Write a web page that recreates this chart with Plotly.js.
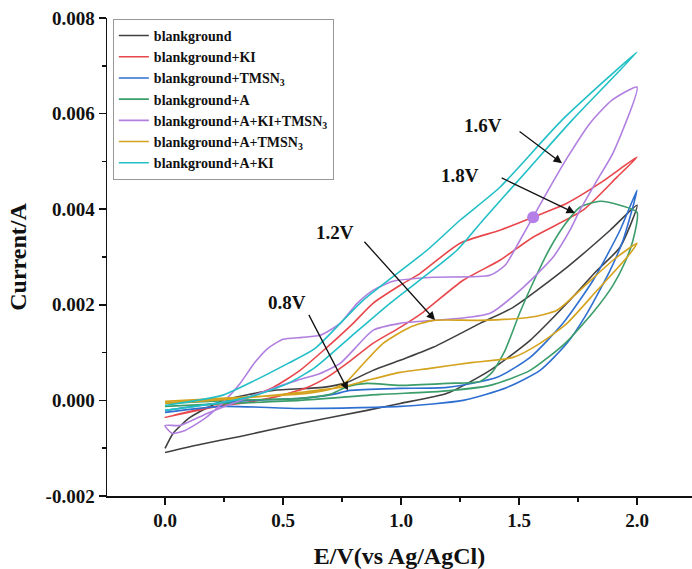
<!DOCTYPE html>
<html>
<head>
<meta charset="utf-8">
<script src="https://cdn.plot.ly/plotly-3.0.1.min.js"></script>
<style>html,body{margin:0;padding:0;background:#fff;}#chart{width:692px;height:569px;}</style>
</head>
<body>
<div id="chart"></div>
<script>
// ---- series names ----
const seriesNames = [
  "blankground",
  "blankground+KI",
  "blankground+TMSN<sub>3</sub>",
  "blankground+A",
  "blankground+A+KI+TMSN<sub>3</sub>",
  "blankground+A+TMSN<sub>3</sub>",
  "blankground+A+KI"
];

// ---- blankground (black) : forward then reverse ----
const blackE = [0,0.034,0.106,0.246,0.458,0.669,0.771,0.881,0.996,1.136,1.335,1.475,1.703,1.886,2.0,
                1.928,1.831,1.703,1.547,1.377,1.195,0.996,0.856,0.572,0.318,0.148,0];
const blackI = [-0.001005,-0.000691,-0.000356,0,0.000209,0.000272,0.000377,0.000628,0.000838,0.00111,0.001612,0.001947,0.002785,0.00356,0.004083,
                0.003204,0.002722,0.002031,0.001256,0.000628,0.000147,-0.000063,-0.000209,-0.000482,-0.000754,-0.000921,-0.001089];

// ---- blankground+KI (red) ----
const redE = [0,0.178,0.318,0.458,0.572,0.686,0.797,0.881,0.996,1.081,1.25,1.419,1.559,1.703,1.843,2.0,
              1.915,1.771,1.559,1.419,1.263,1.093,0.996,0.881,0.771,0.686,0.602,0.458,0.318,0.178,0];
const redI = [-0.000356,-0.000168,0,0.000272,0.000628,0.00111,0.001612,0.002031,0.002408,0.002659,0.003288,0.00356,0.003832,0.004125,0.004544,0.005088,
              0.00467,0.003979,0.003413,0.002932,0.002513,0.001843,0.001529,0.001194,0.000775,0.000482,0.000272,0.000063,-0.000063,-0.000147,-0.000356];

// ---- blankground+TMSN3 (blue) ----
const blueE = [0,0.148,0.36,0.572,0.712,0.784,0.996,1.195,1.407,1.547,1.686,1.814,1.928,2.0,
               1.941,1.886,1.788,1.703,1.589,1.449,1.263,0.996,0.572,0.242,0];
const blueI = [-0.000209,-0.000105,0,0.000042,0.000126,0.000209,0.000251,0.000272,0.000482,0.0009,0.001612,0.002513,0.00356,0.004397,
               0.00335,0.002722,0.001822,0.001194,0.000628,0.000272,0,-0.000126,-0.000168,-0.000126,-0.000251];

// ---- blankground+A (green) ----
const greenE = [0,0.275,0.572,0.699,0.775,0.856,0.996,1.195,1.335,1.386,1.441,1.504,1.568,1.631,1.695,1.758,1.843,1.928,2.0,
                1.983,1.949,1.898,1.814,1.695,1.547,1.377,1.165,0.911,0.572,0.275,0];
const greenI = [-0.000063,0,0.000042,0.000126,0.000293,0.000356,0.000314,0.000356,0.000398,0.000586,0.001047,0.001843,0.002555,0.003183,0.003685,0.004041,0.004167,0.004083,0.003937,
                0.00335,0.00289,0.002408,0.001843,0.001194,0.000628,0.000314,0.000188,0.000126,0,-0.000063,-0.000126];

// ---- blankground+A+KI+TMSN3 (purple) ----
const purpleE = [0,0.03,0.085,0.169,0.254,0.318,0.381,0.436,0.5,0.581,0.657,0.742,0.814,0.881,0.966,1.136,1.377,1.441,1.504,1.559,1.631,1.703,1.801,1.894,2.0,
                 1.898,1.831,1.758,1.716,1.644,1.504,1.377,1.25,1.136,0.996,0.881,0.797,0.742,0.657,0.559,0.432,0.318,0.178,0.064,0];
const purpleI = [-0.000524,-0.000691,-0.000628,-0.000377,0,0.000356,0.000796,0.001089,0.001277,0.001319,0.001361,0.001612,0.002031,0.002303,0.002492,0.002576,0.002618,0.002827,0.00335,0.003832,0.00446,0.005067,0.0058,0.006282,0.006554,
                 0.005172,0.004607,0.003979,0.00356,0.002994,0.002303,0.001822,0.001717,0.001675,0.001612,0.001466,0.001047,0.000775,0.000565,0.000419,0.000209,0,-0.000272,-0.000524,-0.000524];

// ---- blankground+A+TMSN3 (gold) ----
const goldE = [0,0.318,0.602,0.712,0.771,0.826,0.924,1.038,1.136,1.335,1.547,1.661,1.758,1.898,2.0,
               1.958,1.831,1.703,1.589,1.475,1.305,1.123,0.996,0.856,0.742,0.572,0.318,0];
const goldI = [-0.000021,0.000063,0.000147,0.000251,0.000398,0.000691,0.001194,0.001529,0.001675,0.001675,0.001738,0.001885,0.002303,0.002932,0.003288,
               0.002994,0.002303,0.001612,0.001194,0.0009,0.000796,0.00067,0.000586,0.000419,0.000272,0.000168,0.000042,-0.000063];

// ---- blankground+A+KI (cyan) ----
const cyanE = [0,0.242,0.381,0.521,0.636,0.839,1.11,1.25,1.419,1.682,2.0,
               1.725,1.547,1.347,1.237,0.953,0.784,0.636,0.521,0.381,0.242,0];
const cyanI = [-0.000105,0.000105,0.000419,0.000775,0.001089,0.002094,0.003141,0.003769,0.00446,0.005863,0.007287,
               0.005863,0.004879,0.003769,0.003141,0.002031,0.001319,0.000691,0.000356,0.000105,-0.000042,-0.000209];

// ---- marked point and peak labels ----
const dotE = [1.56];
const dotI = [0.00383];
const peakLabels = ["1.6V", "1.8V", "1.2V", "0.8V"];
const peakHeadE = [1.682, 1.737, 1.144, 0.775];
const peakHeadI = [0.00496, 0.00392, 0.00168, 0.00021];
const peakTailE = [1.496, 1.42, 0.839, 0.606];
const peakTailI = [0.00565, 0.00467, 0.00335, 0.00182];
const peakTextE = [1.347, 1.25, 0.72, 0.517];
const peakTextI = [0.00576, 0.00471, 0.00352, 0.00205];

// ---- ticks ----
const yTickVals = [-0.002, 0, 0.002, 0.004, 0.006, 0.008];
const yTickText = ["-0.002", "0.000", "0.002", "0.004", "0.006", "0.008"];
const xTickVals = [0, 0.5, 1, 1.5, 2];
const xTickText = ["0.0", "0.5", "1.0", "1.5", "2.0"];

const colors = ["#404040", "#e8474b", "#2f6fd1", "#3a9d6a", "#b07fe0", "#d4a21c", "#22bfc6"];
const xs = [blackE, redE, blueE, greenE, purpleE, goldE, cyanE];
const ys = [blackI, redI, blueI, greenI, purpleI, goldI, cyanI];

const serif = "'Liberation Serif'";
const traces = xs.map((x, i) => ({
  x: x, y: ys[i], type: "scatter", mode: "lines",
  name: seriesNames[i],
  line: {color: colors[i], width: 1.6, shape: "spline", smoothing: 0.6}
}));
traces.push({x: dotE, y: dotI, type: "scatter", mode: "markers", showlegend: false,
  marker: {color: "#b47fe6", size: 12}});

const annotations = [];
for (let i = 0; i < peakLabels.length; i++) {
  annotations.push({x: peakHeadE[i], y: peakHeadI[i], ax: peakTailE[i], ay: peakTailI[i],
    xref: "x", yref: "y", axref: "x", ayref: "y", text: "", showarrow: true,
    arrowhead: 2, arrowsize: 1.3, arrowwidth: 1.3, arrowcolor: "#111"});
  annotations.push({x: peakTextE[i], y: peakTextI[i], xref: "x", yref: "y", text: peakLabels[i],
    showarrow: false, font: {family: serif, size: 19, color: "#111", weight: "bold"}});
}

const layout = {
  width: 692, height: 569,
  margin: {l: 107, r: 0, t: 18, b: 73},
  paper_bgcolor: "#fff", plot_bgcolor: "#fff",
  showlegend: true,
  legend: {x: 0.01, y: 0.998, xanchor: "left", yanchor: "top",
    bgcolor: "#fff", bordercolor: "#999", borderwidth: 1,
    font: {family: serif, size: 14, color: "#111", weight: "bold"},
    tracegroupgap: 0, itemwidth: 30},
  xaxis: {range: [-0.246, 2.233], showgrid: false, zeroline: false,
    showline: true, linecolor: "#111", linewidth: 1.5, mirror: false,
    ticks: "outside", ticklen: 7, tickwidth: 1.5, tickcolor: "#111",
    tickvals: xTickVals, ticktext: xTickText,
    tickfont: {family: serif, size: 19, color: "#111", weight: "bold"},
    minor: {ticks: "outside", ticklen: 4, tickwidth: 1.5, tickcolor: "#111", dtick: 0.25, tick0: 0},
    title: {text: "E/V(vs Ag/AgCl)", standoff: 18, font: {family: serif, size: 24, color: "#111", weight: "bold"}}},
  yaxis: {range: [-0.002, 0.008], showgrid: false, zeroline: false,
    showline: true, linecolor: "#111", linewidth: 1.5, mirror: false,
    ticks: "outside", ticklen: 7, tickwidth: 1.5, tickcolor: "#111",
    tickvals: yTickVals, ticktext: yTickText,
    tickfont: {family: serif, size: 19, color: "#111", weight: "bold"},
    minor: {ticks: "outside", ticklen: 4, tickwidth: 1.5, tickcolor: "#111", dtick: 0.001, tick0: 0},
    title: {text: "Current/A", standoff: 12, font: {family: serif, size: 24, color: "#111", weight: "bold"}}},
  annotations: annotations
};

Plotly.newPlot("chart", traces, layout, {displayModeBar: false, staticPlot: true});
</script>
</body>
</html>
